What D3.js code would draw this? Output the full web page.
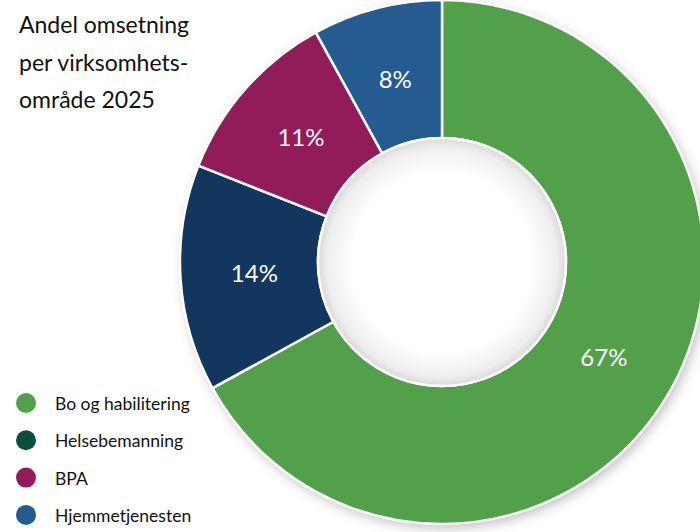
<!DOCTYPE html>
<html>
<head>
<meta charset="utf-8">
<script src="https://cdn.jsdelivr.net/npm/d3@7"></script>
<style>
  body { margin: 0; background: #fff; }
  svg { display: block; font-family: Lato, "Open Sans", sans-serif; }
</style>
</head>
<body>
<svg id="chart" width="700" height="532"></svg>
<script>
// data
const categories = ["Bo og habilitering", "Helsebemanning", "BPA", "Hjemmetjenesten"];
const shares = [67, 14, 11, 8];
const sliceColors = ["#52a049", "#13365e", "#921c59", "#245b91"];
const legendColors = ["#52a049", "#0c4d3f", "#921c59", "#245b91"];
const titleLines = ["Andel omsetning", "per virksomhets-", "område 2025"];

const svg = d3.select("#chart");
const cx = 442, cy = 262, outR = 262, inR = 124;

const defs = svg.append("defs");
const shadow = defs.append("filter").attr("id", "shadow")
    .attr("x", "-20%").attr("y", "-20%").attr("width", "140%").attr("height", "140%");
shadow.append("feDropShadow")
    .attr("dx", 3).attr("dy", 4).attr("stdDeviation", 6)
    .attr("flood-color", "#000").attr("flood-opacity", 0.25);

const hole = defs.append("radialGradient").attr("id", "hole");
hole.append("stop").attr("offset", "0.72").attr("stop-color", "#ffffff");
hole.append("stop").attr("offset", "0.93").attr("stop-color", "#eeeeee");
hole.append("stop").attr("offset", "1").attr("stop-color", "#d9d9d9");

const pie = d3.pie().value(d => d).sort(null);
const arcs = pie(shares);
const arc = d3.arc().innerRadius(inR).outerRadius(outR);
const labelArc = d3.arc().innerRadius(inR + 4).outerRadius(outR - 14);

const g = svg.append("g").attr("transform", `translate(${cx},${cy})`);

g.append("circle").attr("r", outR).attr("fill", "#fff").attr("filter", "url(#shadow)");

g.selectAll("path.slice")
    .data(arcs)
    .enter()
    .append("path")
    .attr("class", "slice")
    .attr("d", arc)
    .attr("fill", (d, i) => sliceColors[i])
    .attr("stroke", "#fff")
    .attr("stroke-width", 2.5);

g.append("circle").attr("r", inR).attr("fill", "url(#hole)")
    .attr("stroke", "#fff").attr("stroke-width", 2.5);

g.selectAll("text.pct")
    .data(arcs)
    .enter()
    .append("text")
    .attr("class", "pct")
    .attr("transform", d => `translate(${labelArc.centroid(d)})`)
    .attr("dy", "0.35em")
    .attr("text-anchor", "middle")
    .attr("fill", "#fff")
    .style("font-size", "24px")
    .text(d => d.data + "%");

// title
svg.append("g").selectAll("text")
    .data(titleLines)
    .enter()
    .append("text")
    .attr("x", 19)
    .attr("y", (d, i) => 33 + i * 37.5)
    .attr("fill", "#111")
    .style("font-size", "23px")
    .text(d => d);

// legend
const leg = svg.append("g").selectAll("g")
    .data(categories)
    .enter()
    .append("g")
    .attr("transform", (d, i) => `translate(26,${403 + i * 37.3})`);

leg.append("circle").attr("r", 10).attr("fill", (d, i) => legendColors[i]);
leg.append("text")
    .attr("x", 29)
    .attr("y", 7)
    .attr("fill", "#111")
    .style("font-size", "17.5px")
    .text(d => d);
</script>
</body>
</html>
